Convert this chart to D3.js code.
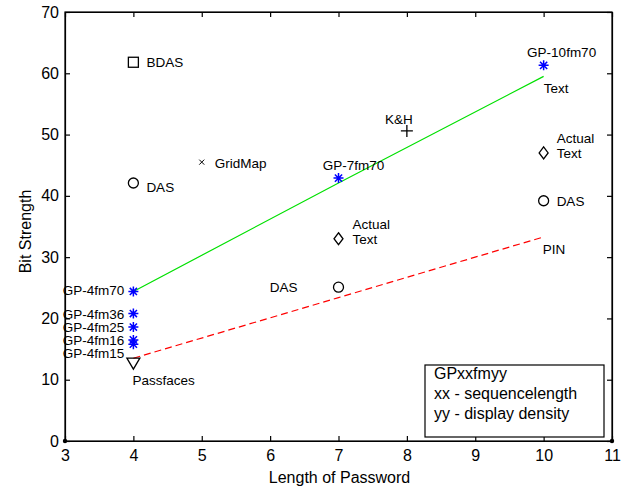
<!DOCTYPE html>
<html>
<head>
<meta charset="utf-8">
<script src="https://cdn.jsdelivr.net/npm/d3@7"></script>
<style>
  html, body { margin: 0; padding: 0; background: #fff; }
  svg { display: block; }
  text { font-family: Arial, "Liberation Sans", sans-serif; fill: #000; }
</style>
</head>
<body>
<svg id="chart" width="621" height="488"></svg>
<script>
// ---------------- DATA ----------------
const xTicks = [3, 4, 5, 6, 7, 8, 9, 10, 11];
const yTicks = [0, 10, 20, 30, 40, 50, 60, 70];
const xLabel = "Length of Password";
const yLabel = "Bit Strength";

// GP (blue star) points
const gpNames = ["GP-4fm70", "GP-4fm36", "GP-4fm25", "GP-4fm16", "GP-4fm15", "GP-7fm70", "GP-10fm70"];
const gpX     = [4, 4, 4, 4, 4, 7, 10];
const gpY     = [24.4, 20.8, 18.6, 16.5, 15.8, 42.9, 61.3];

// other schemes (black markers)
const otherNames   = ["BDAS", "DAS", "GridMap", "K&H", "Actual Text", "DAS", "Actual Text", "DAS", "Passfaces"];
const otherX       = [4, 4, 5, 8, 10, 10, 7, 7, 4];
const otherY       = [61.8, 42.1, 45.5, 50.6, 47.0, 39.2, 33.0, 25.1, 12.7];
const otherMarkers = ["square", "circle", "x", "plus", "diamond", "circle", "diamond", "circle", "triangle"];

// lines
const greenX = [4, 7, 10];
const greenY = [24.4, 42.1, 59.5];
const redX   = [4, 7, 10];
const redY   = [13.5, 23.4, 33.3];

// line-end labels
const lineLabels = ["Text", "PIN"];

// legend text
const legendLines = ["GPxxfmyy", "xx - sequencelength", "yy - display density"];

// ---------------- LAYOUT ----------------
const svg = d3.select("#chart");
const L = 65, R = 612, T = 12, B = 441;
const x = d3.scaleLinear().domain([3, 11]).range([L, R]);
const y = d3.scaleLinear().domain([0, 70]).range([B, T]);

// frame
const frame = svg.append("g");
frame.append("rect").attr("x", L).attr("y", T).attr("width", R - L).attr("height", B - T)
  .attr("fill", "none").attr("stroke", "#000").attr("stroke-width", 1.2);

// axes
const xAxis = d3.axisBottom(x).tickValues(xTicks).tickFormat(d3.format("d")).tickSizeInner(-5).tickSizeOuter(0).tickPadding(9);
const yAxis = d3.axisLeft(y).tickValues(yTicks).tickFormat(d3.format("d")).tickSizeInner(-5).tickSizeOuter(0).tickPadding(6);
const xTop = d3.axisTop(x).tickValues(xTicks).tickFormat("").tickSizeInner(-5).tickSizeOuter(0);
const yRight = d3.axisRight(y).tickValues(yTicks).tickFormat("").tickSizeInner(-5).tickSizeOuter(0);

function styleAxis(g) {
  g.select(".domain").attr("stroke", "#000").attr("stroke-width", 1.2);
  g.selectAll(".tick line").attr("stroke", "#000").attr("stroke-width", 1.2);
  g.selectAll(".tick text").style("font-size", "16px").attr("fill", "#000")
    .style("font-family", "Arial, 'Liberation Sans', sans-serif");
}
svg.append("g").attr("transform", `translate(0,${B})`).call(xAxis).call(styleAxis);
svg.append("g").attr("transform", `translate(${L},0)`).call(yAxis).call(styleAxis);
svg.append("g").attr("transform", `translate(0,${T})`).call(xTop).call(styleAxis);
svg.append("g").attr("transform", `translate(${R},0)`).call(yRight).call(styleAxis);

// end dots on x axis
svg.append("circle").attr("cx", x(3)).attr("cy", B).attr("r", 2.2).attr("fill", "#000");
svg.append("circle").attr("cx", x(11)).attr("cy", B).attr("r", 2.2).attr("fill", "#000");

// axis titles
svg.append("text").attr("x", (L + R) / 2 + 1).attr("y", 483).attr("text-anchor", "middle")
  .style("font-size", "16px").text(xLabel);
svg.append("text").attr("transform", `translate(31,${(T + B) / 2 + 5}) rotate(-90)`)
  .attr("text-anchor", "middle").style("font-size", "16px").text(yLabel);

// lines
const lineGen = d3.line().x(d => x(d[0])).y(d => y(d[1]));
svg.append("path").datum(greenX.map((v, i) => [v, greenY[i]])).attr("d", lineGen)
  .attr("fill", "none").attr("stroke", "#00e000").attr("stroke-width", 1.2);
svg.append("path").datum(redX.map((v, i) => [v, redY[i]])).attr("d", lineGen)
  .attr("fill", "none").attr("stroke", "#ff0000").attr("stroke-width", 1.2)
  .attr("stroke-dasharray", "7,4");

// markers
function drawMarker(g, type, cx, cy, color) {
  const s = color || "#000";
  if (type === "circle") {
    g.append("circle").attr("cx", cx).attr("cy", cy).attr("r", 5).attr("fill", "none").attr("stroke", s).attr("stroke-width", 1.3);
  } else if (type === "square") {
    g.append("rect").attr("x", cx - 5).attr("y", cy - 5).attr("width", 10).attr("height", 10).attr("fill", "none").attr("stroke", s).attr("stroke-width", 1.3);
  } else if (type === "diamond") {
    g.append("path").attr("d", `M${cx},${cy - 6}L${cx + 4.5},${cy}L${cx},${cy + 6}L${cx - 4.5},${cy}Z`).attr("fill", "none").attr("stroke", s).attr("stroke-width", 1.3);
  } else if (type === "x") {
    g.append("path").attr("d", `M${cx - 2.5},${cy - 2.5}L${cx + 2.5},${cy + 2.5}M${cx - 2.5},${cy + 2.5}L${cx + 2.5},${cy - 2.5}`).attr("stroke", s).attr("stroke-width", 1);
  } else if (type === "plus") {
    g.append("path").attr("d", `M${cx - 6},${cy}L${cx + 6},${cy}M${cx},${cy - 6}L${cx},${cy + 6}`).attr("stroke", s).attr("stroke-width", 1.3);
  } else if (type === "triangle") {
    g.append("path").attr("d", `M${cx - 6.5},${cy - 5}L${cx + 6.5},${cy - 5}L${cx},${cy + 6}Z`).attr("fill", "none").attr("stroke", s).attr("stroke-width", 1.3);
  } else if (type === "star") {
    const r = 5, d = 3.6;
    g.append("path").attr("d",
      `M${cx - r},${cy}L${cx + r},${cy}M${cx},${cy - r}L${cx},${cy + r}` +
      `M${cx - d},${cy - d}L${cx + d},${cy + d}M${cx - d},${cy + d}L${cx + d},${cy - d}`)
      .attr("stroke", s).attr("stroke-width", 1.5);
  }
}

const marks = svg.append("g");
otherX.forEach((v, i) => drawMarker(marks, otherMarkers[i], x(v), y(otherY[i]), "#000"));
gpX.forEach((v, i) => drawMarker(marks, "star", x(v), y(gpY[i]), "#0000ff"));

// ---------------- LABELS (offsets are styling) ----------------
const labels = svg.append("g").style("font-size", "13.5px");
function label(txt, px, py, dx, dy, anchor) {
  labels.append("text").attr("x", px + dx).attr("y", py + dy + 5).attr("text-anchor", anchor || "start").text(txt);
}
// GP labels
const gpOffsets = [[-9, -1, "end"], [-9, 0, "end"], [-9, 0, "end"], [-9, 0, "end"], [-9, 9, "end"], [15, -13, "middle"], [18, -13, "middle"]];
gpNames.forEach((n, i) => { const o = gpOffsets[i]; label(n, x(gpX[i]), y(gpY[i]), o[0], o[1], o[2]); });

// other labels
const otherOffsets = [[13, 0, "start"], [13, 4, "start"], [13, 1, "start"], [-8, -12, "middle"], [13, -8, "start"], [13, 0, "start"], [14, -8, "start"], [-41, 0, "end"], [-1, 17, "start"]];
otherNames.forEach((n, i) => {
  const o = otherOffsets[i];
  const px = x(otherX[i]), py = y(otherY[i]);
  const parts = n.split(" ");
  if (parts.length === 2 && n === "Actual Text") {
    label(parts[0], px, py, o[0], o[1] - 7, o[2]);
    label(parts[1], px, py, o[0], o[1] + 8, o[2]);
  } else {
    label(n, px, py, o[0], o[1], o[2]);
  }
});

// line-end labels
label(lineLabels[0], x(greenX[2]), y(greenY[2]), 0, 12, "start");
label(lineLabels[1], x(redX[2]), y(redY[2]), -1, 12, "start");

// legend box
const lg = svg.append("g");
lg.append("rect").attr("x", 425).attr("y", 365).attr("width", 179).attr("height", 72)
  .attr("fill", "#fff").attr("stroke", "#000").attr("stroke-width", 1.2);
legendLines.forEach((t, i) => {
  lg.append("text").attr("x", 434).attr("y", 379 + i * 20).style("font-size", "16px").text(t);
});
</script>
</body>
</html>
